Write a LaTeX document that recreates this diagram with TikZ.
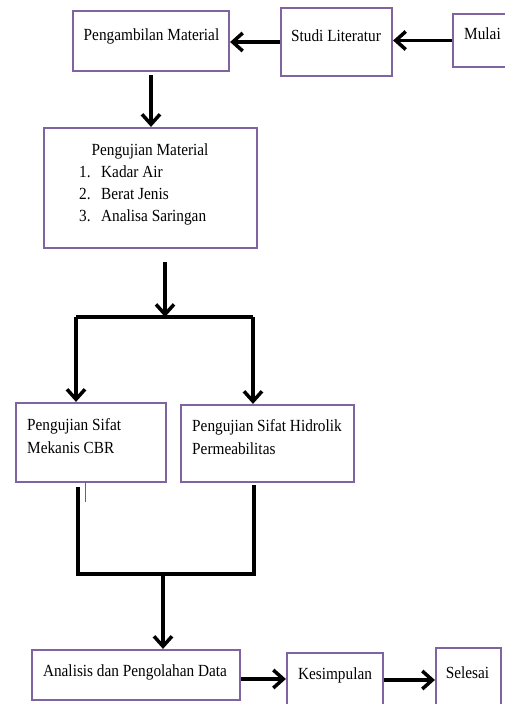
\documentclass[tikz,border=0pt]{standalone}
\usepackage{fontspec}
\setmainfont{Liberation Serif}[FakeStretch=0.9]
\usetikzlibrary{arrows.meta}
\definecolor{boxpurple}{RGB}{128,100,162}
\begin{document}
\begin{tikzpicture}[x=1bp,y=-1bp,
  box/.style={draw=boxpurple, line width=2.2bp, fill=white, inner sep=0pt},
  txt/.style={font=\fontsize{17bp}{22bp}\selectfont, inner sep=0pt, text=black},
  arr/.style={line width=3.5bp, -{Straight Barb[length=10bp,width=18bp,line width=3.5bp]}},
  ln/.style={line width=3.5bp, line join=miter}]
\useasboundingbox[fill=white] (0,0) rectangle (505,704);

% boxes
\node[box, minimum width=156bp, minimum height=60bp] (peng) at (151,41) {};
\node[box, minimum width=111bp, minimum height=68bp] (studi) at (336.5,42) {};
\node[box, minimum width=57bp, minimum height=53bp] (mulai) at (481.5,40.5) {};
\node[box, minimum width=213bp, minimum height=120bp] (uji) at (150.5,188) {};
\node[box, minimum width=150bp, minimum height=79bp] (cbr) at (91,442.5) {};
\node[box, minimum width=173bp, minimum height=77bp] (hid) at (267.5,443.5) {};
\node[box, minimum width=208bp, minimum height=50bp] (ana) at (136,675) {};
\node[box, minimum width=96bp, minimum height=52bp] (kes) at (335,679) {};
\node[box, minimum width=65bp, minimum height=58bp] (sel) at (468.5,677) {};

% texts
\node[txt, anchor=base] (tpeng) at (151.5,40.5) {Pengambilan Material};
\node[txt, anchor=base] (tstudi) at (336,41.5) {Studi Literatur};
\node[txt, anchor=base west] (tmulai) at (464,39.5) {Mulai};
\node[txt, anchor=base] (tuji) at (150,155) {Pengujian Material};
\node[txt, anchor=base west] (n1) at (79,177) {1.};
\node[txt, anchor=base west] (i1) at (101,177) {Kadar Air};
\node[txt, anchor=base west] (n2) at (79,199) {2.};
\node[txt, anchor=base west] (i2) at (101,199) {Berat Jenis};
\node[txt, anchor=base west] (n3) at (79,221) {3.};
\node[txt, anchor=base west] (i3) at (101,221) {Analisa Saringan};
\node[txt, anchor=base west] (tcbr1) at (27,430) {Pengujian Sifat};
\node[txt, anchor=base west] (tcbr2) at (27,453) {Mekanis CBR};
\node[txt, anchor=base west] (thid1) at (192,431.5) {Pengujian Sifat Hidrolik};
\node[txt, anchor=base west] (thid2) at (192,454) {Permeabilitas};
\node[txt, anchor=base] (tana) at (135,676.5) {Analisis dan Pengolahan Data};
\node[txt, anchor=base] (tkes) at (335,679) {Kesimpulan};
\node[txt, anchor=base] (tsel) at (467.5,678) {Selesai};

% coordinates
\coordinate (s1) at (165,262);
\coordinate (j1) at (165,317);
\coordinate (jl) at (76,317);
\coordinate (jr) at (253,317);
\coordinate (b1) at (78,487);
\coordinate (b2) at (254,485);
\coordinate (m1) at (78,574);
\coordinate (m2) at (254,574);
\coordinate (mc) at (163,574);
\coordinate (t1) at (85,482);
\coordinate (t2) at (85,502);
\coordinate (h1) at (0,679);
\coordinate (h2) at (0,680);

% connectors
\draw[arr] (mulai.west) -- (mulai.west -| studi.east);
\draw[arr] (studi.west) -- (studi.west -| peng.east);
\draw[arr] ([yshift=-3bp]peng.south) -- (peng.south |- uji.north);
\draw[arr] (s1) -- (j1);
\draw[ln] (jl) -- (jr);
\draw[arr] (jl) -- (jl |- cbr.north);
\draw[arr] (jr) -- (jr |- hid.north);
\draw[ln] (b1) -- (m1) -- (m2) -- (b2);
\draw[line width=1bp, black!60] (t1) -- (t2);
\draw[arr] (mc) -- (mc |- ana.north);
\draw[arr] (ana.east |- h1) -- (kes.west |- h1);
\draw[arr] (kes.east |- h2) -- (sel.west |- h2);
\end{tikzpicture}
\end{document}
